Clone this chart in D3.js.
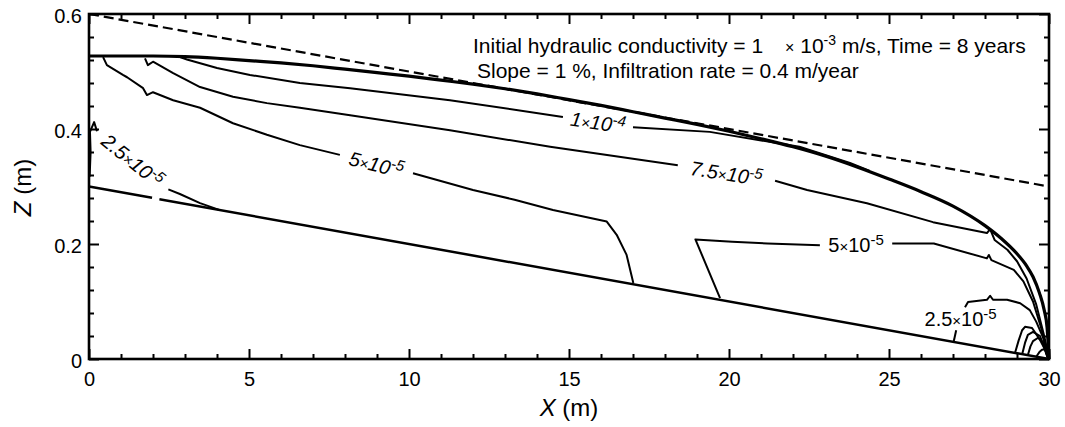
<!DOCTYPE html>
<html>
<head>
<meta charset="utf-8">
<script src="https://cdn.jsdelivr.net/npm/d3@7"></script>
<style>
  body { margin: 0; background: #fff; }
  text { font-family: "Liberation Sans", Arial, sans-serif; fill: #000; }
</style>
</head>
<body>
<div id="chart"></div>
<script>
// ---- data: [x (m), z (m)] ----
var xTicks = [0, 5, 10, 15, 20, 25, 30];
var xMinorTicks = [1, 2, 3, 4, 6, 7, 8, 9, 11, 12, 13, 14, 16, 17, 18, 19, 21, 22, 23, 24, 26, 27, 28, 29];
var zTicks = [0, 0.2, 0.4, 0.6];
var zMinorTicks = [0.04, 0.08, 0.12, 0.16, 0.24, 0.28, 0.32, 0.36, 0.44, 0.48, 0.52, 0.56];

var groundSurface = [[0, 0.6], [30, 0.3]];
var bedrock = [
  [[0, 0.3], [1.97, 0.2803]],
  [[2.2, 0.278], [30, 0]]
];

var waterTable = [
  [0, 0.527], [2, 0.527], [3, 0.526], [4, 0.523], [5, 0.519], [6, 0.515], [7, 0.51],
  [8, 0.504], [9, 0.498], [10, 0.492], [11, 0.485], [12, 0.478], [13, 0.47], [14, 0.461],
  [15, 0.451], [16, 0.441], [17, 0.43], [18, 0.419], [19, 0.408], [20, 0.396], [21, 0.383],
  [22, 0.369], [23, 0.353], [24, 0.334], [25, 0.313], [26, 0.291], [27, 0.266], [28, 0.232],
  [28.5, 0.21], [29, 0.183], [29.3, 0.162], [29.5, 0.143], [29.7, 0.115], [29.85, 0.085],
  [29.94, 0.055], [30, 0]
];

// contour lines of hydraulic conductivity, each split where its label sits
var k1e4 = [
  [[2.84, 0.525], [3.06, 0.521], [4.0, 0.506], [5.03, 0.494], [6.59, 0.48], [8.16, 0.471],
   [11.28, 0.45], [14.81, 0.421]],
  [[17.0, 0.403], [19.4, 0.395], [22.2, 0.369], [23.78, 0.341], [24.4, 0.327]]
];
var k75e5 = [
  [[1.75, 0.523], [1.84, 0.511], [2.0, 0.517], [2.63, 0.497], [3.47, 0.473], [4.5, 0.456],
   [5.56, 0.445], [6.59, 0.437], [8.16, 0.424], [11.28, 0.398], [14.41, 0.369], [18.4, 0.337]],
  [[21.44, 0.31], [22.44, 0.294], [24.31, 0.271], [26.375, 0.238], [28.06, 0.219], [28.16, 0.226],
   [28.3, 0.207], [28.7, 0.19], [29.0, 0.17], [29.3, 0.14], [29.6, 0.095], [29.85, 0.04], [30, 0]]
];
var k5e5Left = [
  [[0.44, 0.525], [0.56, 0.511], [1.06, 0.494], [1.19, 0.49], [1.69, 0.471], [1.81, 0.459],
   [2.0, 0.464], [2.63, 0.45], [3.47, 0.437], [4.5, 0.41], [5.56, 0.39], [6.59, 0.372], [7.84, 0.355]],
  [[10.125, 0.323], [12.0, 0.294], [13.3, 0.277], [14.5, 0.259], [16.18, 0.239], [16.49, 0.216],
   [16.8, 0.181], [17.01, 0.132]]
];
var k5e5Right = [
  [[19.72, 0.106], [18.95, 0.208], [20.1, 0.204], [21.2, 0.201], [22.84, 0.198]],
  [[25.1, 0.201], [26.4, 0.201], [28.06, 0.175], [28.12, 0.181], [28.2, 0.172], [28.9, 0.155],
   [29.2, 0.135], [29.5, 0.1], [29.75, 0.055], [29.92, 0.02], [30, 0]]
];
var k25e5Left = [
  [[0.02, 0.317], [0.05, 0.36], [0.03, 0.395], [0.16, 0.412], [0.25, 0.396]],
  [[2.48, 0.295], [2.84, 0.287], [3.47, 0.271], [4.09, 0.259]]
];
var k25e5Right = [
  [[27.02, 0.03], [27.1, 0.05]],
  [[27.375, 0.09], [27.47, 0.099], [28.06, 0.103], [28.16, 0.11], [28.25, 0.103], [28.69, 0.103],
   [29.1, 0.097], [29.4, 0.085], [29.6, 0.065], [29.81, 0.038], [29.95, 0.01], [30, 0]]
];
// small unlabelled contours at the outlet corner
var cornerArcs = [
  [[28.94, 0.011], [29.05, 0.032], [29.16, 0.05], [29.25, 0.056], [29.47, 0.054], [29.7, 0.035], [29.88, 0.016], [29.97, 0.002]],
  [[29.16, 0.008], [29.25, 0.028], [29.34, 0.042], [29.5, 0.047], [29.72, 0.04], [29.85, 0.02], [29.95, 0.003]],
  [[29.34, 0.007], [29.42, 0.022], [29.5, 0.031], [29.66, 0.037], [29.81, 0.029], [29.97, 0.002]],
  [[29.6, 0.004], [29.7, 0.012], [29.78, 0.016], [29.88, 0.017], [29.98, 0.001]]
];

var contourLabels = [
  {mant: "1", exp: "-4", line: k1e4, upright: false},
  {mant: "7.5", exp: "-5", line: k75e5, upright: false},
  {mant: "5", exp: "-5", line: k5e5Left, upright: false},
  {mant: "5", exp: "-5", line: k5e5Right, upright: true},
  {mant: "2.5", exp: "-5", line: k25e5Left, upright: false},
  {mant: "2.5", exp: "-5", line: k25e5Right, upright: true}
];

// ---- layout ----
var width = 1065;
var height = 427;
var margin = {top: 14, right: 16, bottom: 68, left: 89};
var innerW = width - margin.left - margin.right;
var innerH = height - margin.top - margin.bottom;

var svg = d3.select("#chart").append("svg")
  .attr("width", width)
  .attr("height", height);

var g = svg.append("g")
  .attr("transform", "translate(" + margin.left + "," + margin.top + ")");

var x = d3.scaleLinear().domain([0, 30]).range([0, innerW]);
var z = d3.scaleLinear().domain([0, 0.6]).range([innerH, 0]);

var line = d3.line()
  .x(function(d) { return x(d[0]); })
  .y(function(d) { return z(d[1]); });

var smoothLine = d3.line()
  .curve(d3.curveMonotoneX)
  .x(function(d) { return x(d[0]); })
  .y(function(d) { return z(d[1]); });

// axes: ticks point inwards on all four sides
function addAxis(axis, tx, ty) {
  var a = g.append("g")
    .attr("transform", "translate(" + tx + "," + ty + ")")
    .call(axis);
  a.select(".domain").remove();
  a.selectAll(".tick line").attr("stroke", "#000").attr("stroke-width", 2);
  a.selectAll("text").style("font-size", "20px").attr("fill", "#000");
  return a;
}

addAxis(d3.axisBottom(x).tickValues(xTicks).tickSize(-10).tickPadding(13).tickFormat(d3.format("d")), 0, innerH);
addAxis(d3.axisBottom(x).tickValues(xMinorTicks).tickSize(-5).tickFormat(""), 0, innerH);
addAxis(d3.axisTop(x).tickValues(xTicks).tickSize(-10).tickFormat(""), 0, 0);
addAxis(d3.axisTop(x).tickValues(xMinorTicks).tickSize(-5).tickFormat(""), 0, 0);

var yAx = addAxis(d3.axisLeft(z).tickValues(zTicks).tickSize(-10).tickPadding(7).tickFormat(function(d) { return String(d); }), 0, 0);
yAx.selectAll("text").attr("dy", "0.4em");
addAxis(d3.axisLeft(z).tickValues(zMinorTicks).tickSize(-5).tickFormat(""), 0, 0);
addAxis(d3.axisRight(z).tickValues(zTicks).tickSize(-10).tickFormat(""), innerW, 0);
addAxis(d3.axisRight(z).tickValues(zMinorTicks).tickSize(-5).tickFormat(""), innerW, 0);

// ground surface (dashed)
g.append("path")
  .attr("d", line(groundSurface))
  .attr("fill", "none")
  .attr("stroke", "#000")
  .attr("stroke-width", 2.2)
  .attr("stroke-dasharray", "10,5");

// impermeable base
g.selectAll(".bedrock")
  .data(bedrock)
  .enter().append("path")
  .attr("class", "bedrock")
  .attr("d", line)
  .attr("fill", "none")
  .attr("stroke", "#000")
  .attr("stroke-width", 2.5);

// contours
var allSegments = [];
[k1e4, k75e5, k5e5Left, k5e5Right, k25e5Left, k25e5Right].forEach(function(c) {
  c.forEach(function(s) { allSegments.push(s); });
});
cornerArcs.forEach(function(s) { allSegments.push(s); });

g.selectAll(".contour")
  .data(allSegments)
  .enter().append("path")
  .attr("class", "contour")
  .attr("d", line)
  .attr("fill", "none")
  .attr("stroke", "#000")
  .attr("stroke-width", 2)
  .attr("stroke-linejoin", "round");

// water table (thick)
g.append("path")
  .attr("d", smoothLine(waterTable))
  .attr("fill", "none")
  .attr("stroke", "#000")
  .attr("stroke-width", 3.2);

// contour labels sit in the gap between the two pieces of each line
contourLabels.forEach(function(lab) {
  var p = lab.line[0][lab.line[0].length - 1];
  var q = lab.line[1][0];
  var x1 = x(p[0]), y1 = z(p[1]), x2 = x(q[0]), y2 = z(q[1]);
  var ang = lab.upright ? 0 : Math.atan2(y2 - y1, x2 - x1) * 180 / Math.PI;
  var t = g.append("text")
    .attr("transform", "translate(" + ((x1 + x2) / 2) + "," + ((y1 + y2) / 2) + ") rotate(" + ang + ")")
    .attr("text-anchor", "middle")
    .attr("dy", "0.38em")
    .style("font-size", "20px")
    .style("font-style", lab.upright ? "normal" : "italic");
  t.append("tspan").text(lab.mant);
  t.append("tspan").style("font-size", "15px").text("\u00d7");
  t.append("tspan").text("10");
  t.append("tspan").attr("dy", -7).style("font-size", "15px").text(lab.exp);
});

// frame
g.append("rect")
  .attr("x", 0)
  .attr("y", 0)
  .attr("width", innerW)
  .attr("height", innerH)
  .attr("fill", "none")
  .attr("stroke", "#000")
  .attr("stroke-width", 2.6);

// annotation
var note1 = svg.append("text")
  .attr("x", 473)
  .attr("y", 53)
  .style("font-size", "21px");
note1.append("tspan").text("Initial hydraulic conductivity = 1");
note1.append("tspan").attr("dx", 22).style("font-size", "16px").text("\u00d7");
note1.append("tspan").text(" 10");
note1.append("tspan").attr("dy", -8).style("font-size", "14px").text("-3");
note1.append("tspan").attr("dy", 8).text(" m/s, Time = 8 years");

svg.append("text")
  .attr("x", 477)
  .attr("y", 78)
  .style("font-size", "21px")
  .text("Slope = 1 %, Infiltration rate = 0.4 m/year");

// axis titles
var xt = svg.append("text")
  .attr("x", margin.left + x(15))
  .attr("y", 416)
  .attr("text-anchor", "middle")
  .style("font-size", "24px");
xt.append("tspan").style("font-style", "italic").text("X");
xt.append("tspan").text(" (m)");

var zt = svg.append("text")
  .attr("transform", "translate(31," + (margin.top + innerH / 2 + 1) + ") rotate(-90)")
  .attr("text-anchor", "middle")
  .style("font-size", "24px");
zt.append("tspan").style("font-style", "italic").text("Z");
zt.append("tspan").text(" (m)");
</script>
</body>
</html>
